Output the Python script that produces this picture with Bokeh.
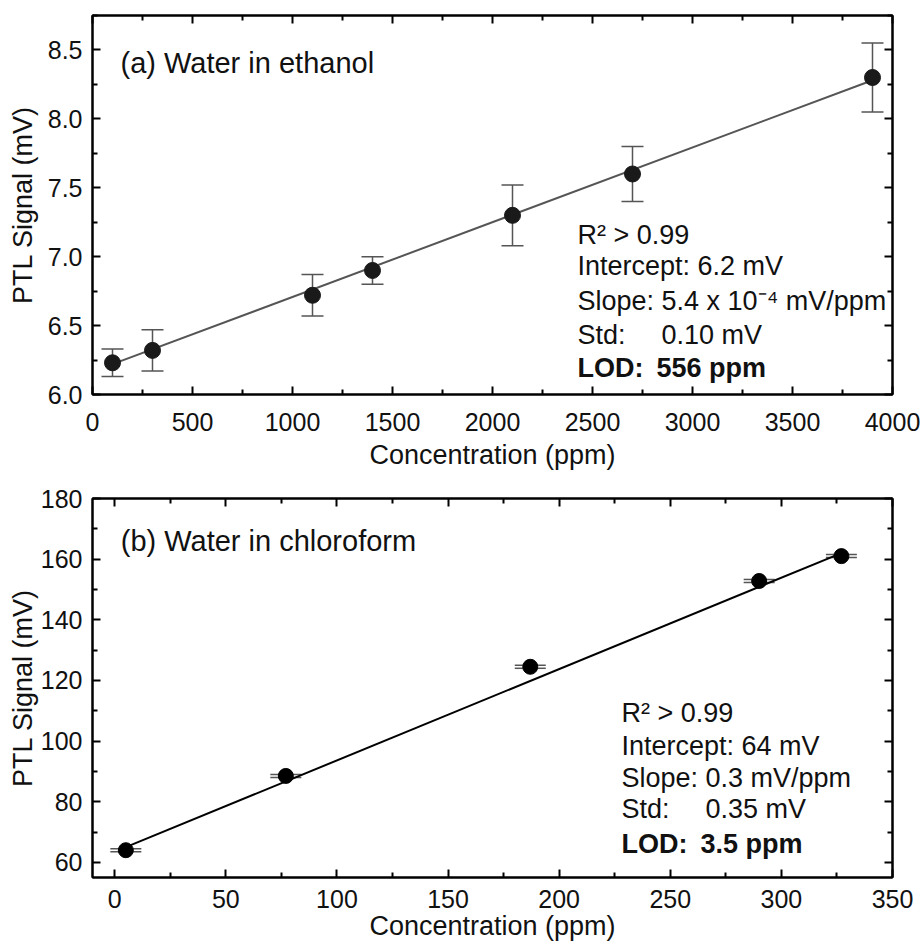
from bokeh.plotting import figure
from bokeh.models import ColumnDataSource, Whisker, LinearAxis, Label, Range1d, FixedTicker, PrintfTickFormatter
from bokeh.layouts import column
from bokeh.embed import file_html
from bokeh.resources import INLINE

FONT = "Liberation Sans"
INK = "#111111"

# ---------------- Panel (a): water in ethanol ----------------
eth_conc = [100, 300, 1100, 1400, 2100, 2700, 3900]
eth_signal = [6.23, 6.32, 6.72, 6.90, 7.30, 7.60, 8.30]
eth_err = [0.10, 0.15, 0.15, 0.10, 0.22, 0.20, 0.25]
eth_fit_x = [100, 3900]
eth_fit_y = [6.22, 8.28]
eth_xticks = [0, 500, 1000, 1500, 2000, 2500, 3000, 3500, 4000]
eth_xminor = [250, 750, 1250, 1750, 2250, 2750, 3250, 3750]
eth_yticks = [6.0, 6.5, 7.0, 7.5, 8.0, 8.5]
eth_yminor = [6.25, 6.75, 7.25, 7.75, 8.25, 8.75]

# ---------------- Panel (b): water in chloroform ----------------
chl_conc = [5, 77, 187, 290, 327]
chl_signal = [64.0, 88.5, 124.5, 152.8, 161.0]
chl_err = [0.5, 0.5, 0.5, 0.5, 0.5]
chl_fit_x = [5, 327]
chl_fit_y = [65.0, 162.0]
chl_xticks = [0, 50, 100, 150, 200, 250, 300, 350]
chl_xminor = [25, 75, 125, 175, 225, 275, 325]
chl_yticks = [60, 80, 100, 120, 140, 160, 180]
chl_yminor = [70, 90, 110, 130, 150, 170]

x_title = "Concentration (ppm)"
y_title = "PTL Signal (mV)"


def style_axis(ax, major, minor, labels=True, lab_standoff=8, title_standoff=5):
    ax.ticker = FixedTicker(ticks=major, minor_ticks=minor)
    ax.axis_line_color = "black"
    ax.axis_line_width = 2
    ax.major_tick_in = 8
    ax.major_tick_out = 0
    ax.major_tick_line_width = 2
    ax.major_tick_line_color = "black"
    ax.minor_tick_in = 5
    ax.minor_tick_out = 0
    ax.minor_tick_line_width = 2
    ax.minor_tick_line_color = "black"
    ax.major_label_text_font = FONT
    ax.major_label_text_color = INK
    ax.axis_label_text_font = FONT
    ax.axis_label_text_font_style = "normal"
    ax.axis_label_text_font_size = "27px"
    ax.axis_label_text_color = INK
    ax.major_label_standoff = lab_standoff
    ax.axis_label_standoff = title_standoff
    if labels:
        ax.major_label_text_font_size = "25px"
    else:
        ax.major_label_text_font_size = "0px"
        ax.major_label_standoff = 0
        ax.major_label_overrides = {t: "" for t in major}


def make_panel(xr, yr, xt, xm, yt, ym, height, top, bottom, yfmt, xs, ys):
    p = figure(width=921, height=height, x_range=Range1d(*xr), y_range=Range1d(*yr),
               output_backend="svg", toolbar_location=None,
               min_border_left=92, min_border_right=29,
               min_border_top=top, min_border_bottom=bottom,
               x_axis_location=None, y_axis_location=None)
    p.xgrid.visible = False
    p.ygrid.visible = False
    p.outline_line_color = "black"
    p.outline_line_width = 2
    p.background_fill_color = "white"
    p.border_fill_color = "white"
    bx = LinearAxis(axis_label=x_title)
    style_axis(bx, xt, xm, lab_standoff=xs[0], title_standoff=xs[1])
    p.add_layout(bx, "below")
    ly = LinearAxis(axis_label=y_title, formatter=PrintfTickFormatter(format=yfmt))
    style_axis(ly, yt, ym, lab_standoff=ys[0], title_standoff=ys[1])
    p.add_layout(ly, "left")
    top_ax = LinearAxis()
    style_axis(top_ax, xt, xm, labels=False)
    p.add_layout(top_ax, "above")
    right_ax = LinearAxis()
    style_axis(right_ax, yt, ym, labels=False)
    p.add_layout(right_ax, "right")
    return p


def add_text(p, x, y, text, size="27px", bold=False, xoff=0):
    p.add_layout(Label(x=x, y=y, text=text, x_offset=xoff, text_font=FONT, text_font_size=size,
                       text_font_style="bold" if bold else "normal",
                       text_color=INK, text_baseline="middle", text_align="left"))


# ---- panel (a)
pa = make_panel((0, 4000), (6.0, 8.75), eth_xticks, eth_xminor, eth_yticks, eth_yminor,
                480, 15, 86, "%.1f", (18, 6), (10, 7))

src_a = ColumnDataSource(dict(x=eth_conc, y=eth_signal,
                              lo=[v - e for v, e in zip(eth_signal, eth_err)],
                              hi=[v + e for v, e in zip(eth_signal, eth_err)]))
pa.line(eth_fit_x, eth_fit_y, line_color="#555555", line_width=2)
wa = Whisker(base="x", lower="lo", upper="hi", source=src_a, dimension="height",
             line_color="#555555", line_width=1.5)
wa.upper_head.size = 22
wa.lower_head.size = 22
wa.upper_head.line_color = "#555555"
wa.lower_head.line_color = "#555555"
wa.upper_head.line_width = 1.5
wa.lower_head.line_width = 1.5
pa.add_layout(wa)
pa.scatter("x", "y", source=src_a, size=16, fill_color="#1a1a1a", line_color="#1a1a1a")

add_text(pa, 140, 8.406, "(a) Water in ethanol", size="29px")
add_text(pa, 2425, 7.16, "R² > 0.99")
add_text(pa, 2425, 6.93, "Intercept: 6.2 mV")
add_text(pa, 2425, 6.68, "Slope: 5.4 x 10⁻⁴ mV/ppm")
add_text(pa, 2425, 6.435, "Std:")
add_text(pa, 2425, 6.435, "0.10 mV", xoff=84)
add_text(pa, 2425, 6.19, "LOD:", bold=True)
add_text(pa, 2425, 6.19, "556 ppm", bold=True, xoff=79)

# ---- panel (b)
pb = make_panel((-10, 350), (55, 180), chl_xticks, chl_xminor, chl_yticks, chl_yminor,
                463, 18, 66, "%d", (12, 0), (10, 0))

src_b = ColumnDataSource(dict(x=chl_conc, y=chl_signal,
                              lo=[v - e for v, e in zip(chl_signal, chl_err)],
                              hi=[v + e for v, e in zip(chl_signal, chl_err)]))
pb.line(chl_fit_x, chl_fit_y, line_color="black", line_width=2)
wb = Whisker(base="x", lower="lo", upper="hi", source=src_b, dimension="height",
             line_color="#555555", line_width=1.5)
wb.upper_head.size = 31
wb.lower_head.size = 31
wb.upper_head.line_color = "#555555"
wb.lower_head.line_color = "#555555"
wb.upper_head.line_width = 1.5
wb.lower_head.line_width = 1.5
pb.add_layout(wb)
pb.scatter("x", "y", source=src_b, size=15, fill_color="black", line_color="black")

add_text(pb, 2.7, 166.1, "(b) Water in chloroform", size="29px")
add_text(pb, 228, 109.4, "R² > 0.99")
add_text(pb, 228, 98.5, "Intercept: 64 mV")
add_text(pb, 228, 87.9, "Slope: 0.3 mV/ppm")
add_text(pb, 228, 77.7, "Std:")
add_text(pb, 228, 77.7, "0.35 mV", xoff=84)
add_text(pb, 228, 66.1, "LOD:", bold=True)
add_text(pb, 228, 66.1, "3.5 ppm", bold=True, xoff=79)

layout = column(pa, pb, spacing=0)
open("out.html", "w").write(file_html(layout, INLINE))
